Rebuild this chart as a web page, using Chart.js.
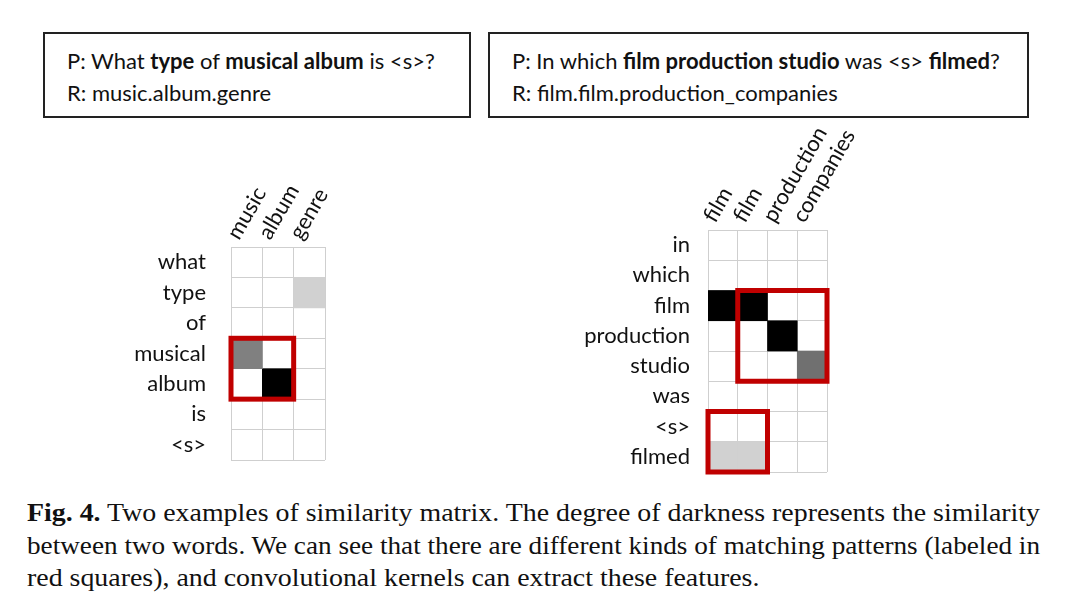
<!DOCTYPE html>
<html>
<head>
<meta charset="utf-8">
<script src="https://cdn.jsdelivr.net/npm/chart.js@4/dist/chart.umd.min.js"></script>
<style>
  body { margin: 0; width: 1080px; height: 611px; background: #fff; position: relative; overflow: hidden; font-family: Lato, sans-serif; color: #111; }
  .box { position: absolute; border: 2px solid #222; box-sizing: border-box; font-size: 22px; line-height: 32px; padding: 11px 0 0 22px; }
  .cv { position: absolute; }
  #caption { position: absolute; left: 27px; top: 497px; font-family: "Liberation Serif", serif; font-size: 26px; line-height: 32.5px; color: #111; white-space: nowrap; }
  #caption div { transform-origin: left center; }
</style>
</head>
<body>
<div class="box" style="left:43px;top:32px;width:428px;height:86px;">
  P: What <b>type</b> of <b>musical album</b> is &lt;s&gt;?<br>R: music.album.genre
</div>
<div class="box" style="left:488px;top:32px;width:541px;height:86px;">
  P: In which <b>film production studio</b> was &lt;s&gt; <b>filmed</b>?<br>R: film.film.production_companies
</div>

<canvas id="m1" class="cv" width="290" height="340" style="left:60px;top:140px;"></canvas>
<canvas id="m2" class="cv" width="320" height="380" style="left:540px;top:110px;"></canvas>

<div id="caption">
  <div id="c1"><b>Fig. 4.</b> Two examples of similarity matrix. The degree of darkness represents the similarity</div>
  <div id="c2">between two words. We can see that there are different kinds of matching patterns (labeled in</div>
  <div id="c3">red squares), and convolutional kernels can extract these features.</div>
</div>

<script>
// matrice 1 : question musicale
const cols1 = ["music", "album", "genre"];
const rows1 = ["what", "type", "of", "musical", "album", "is", "<s>"];
const sim1 = [
  [0, 0, 0],
  [0, 0, 0.18],
  [0, 0, 0],
  [0.5, 0, 0],
  [0, 1, 0],
  [0, 0, 0],
  [0, 0, 0],
];
// carrés rouges : [col début, col fin, ligne début, ligne fin]
const boxes1 = [[0, 2, 3, 5]];

// matrice 2 : question film
const cols2 = ["film", "film", "production", "companies"];
const rows2 = ["in", "which", "film", "production", "studio", "was", "<s>", "filmed"];
const sim2 = [
  [0, 0, 0, 0],
  [0, 0, 0, 0],
  [1, 1, 0, 0],
  [0, 0, 1, 0],
  [0, 0, 0, 0.56],
  [0, 0, 0, 0],
  [0, 0, 0, 0],
  [0.18, 0.18, 0, 0],
];
const boxes2 = [[1, 4, 2, 5], [0, 2, 6, 8]];

const gridColor = "#cfcfcf";

const redBoxes = {
  id: "redBoxes",
  afterDatasetsDraw(chart, args, opts) {
    const { ctx, scales: { x, y } } = chart;
    const cw = x.width / x.ticks.length;
    ctx.save();
    ctx.strokeStyle = "#c00000";
    ctx.lineWidth = 5;
    (opts.boxes || []).forEach(([c0, c1, r0, r1]) => {
      const x0 = x.getPixelForValue(c0) - cw / 2;
      const x1 = x.getPixelForValue(c1 - 1) + cw / 2;
      const y0 = y.getPixelForValue(r0);
      const y1 = y.getPixelForValue(r1);
      ctx.strokeRect(x0, y0, x1 - x0, y1 - y0);
    });
    ctx.restore();
  },
};

function matrice(id, cols, rows, sim, boxes, axeW, axeH, pad, labelPad) {
  const datasets = rows.map((r, i) => ({
    label: r,
    data: cols.map((c, j) => (sim[i][j] > 0 ? [i, i + 1] : null)),
    backgroundColor: cols.map((c, j) => {
      const g = Math.round(255 * (1 - sim[i][j]));
      return `rgb(${g},${g},${g})`;
    }),
    borderWidth: 0,
    categoryPercentage: 1,
    barPercentage: 1,
    grouped: false,
  }));

  new Chart(document.getElementById(id), {
    type: "bar",
    data: { labels: cols, datasets },
    options: {
      responsive: false,
      devicePixelRatio: 1,
      animation: false,
      layout: { padding: pad },
      plugins: {
        legend: { display: false },
        tooltip: { enabled: false },
        redBoxes: { boxes },
      },
      scales: {
        x: {
          position: "top",
          grid: { color: gridColor, offset: true, drawTicks: false },
          border: { color: gridColor },
          ticks: {
            minRotation: 60,
            maxRotation: 60,
            autoSkip: false,
            padding: 3,
            labelOffset: 9,
            color: "#111",
            font: { family: "Lato", size: 22 },
          },
          afterFit: (s) => {
            s.height = axeH;
            s.paddingLeft = s.paddingRight = s.paddingTop = s.paddingBottom = 0;
          },
        },
        y: {
          type: "linear",
          reverse: true,
          min: 0,
          max: rows.length,
          grid: {
            drawTicks: false,
            color: (c) => (c.tick && c.tick.value % 1 === 0 ? gridColor : "rgba(0,0,0,0)"),
          },
          border: { color: gridColor },
          ticks: {
            stepSize: 0.5,
            maxTicksLimit: 100,
            autoSkip: false,
            padding: labelPad,
            color: "#111",
            font: { family: "Lato", size: 22 },
            callback: (v) => (v % 1 === 0.5 ? rows[Math.floor(v)] : ""),
          },
          afterFit: (s) => {
            s.width = axeW;
            s.paddingTop = s.paddingBottom = 0;
          },
        },
      },
    },
    plugins: [redBoxes],
  });
}

matrice("m1", cols1, rows1, sim1, boxes1, 171, 107, { right: 25, bottom: 20 }, 25);
matrice("m2", cols2, rows2, sim2, boxes2, 168, 120, { right: 33, bottom: 18 }, 18);

// légende : étirer chaque ligne à la largeur de la justification d'origine
const largeurs = { c1: 1013, c2: 1013 };
let echelle = 1;
["c1", "c2"].forEach((id) => {
  const el = document.getElementById(id);
  el.style.display = "inline-block";
  const w = el.getBoundingClientRect().width;
  el.style.transform = `scaleX(${largeurs[id] / w})`;
  el.style.display = "block";
  if (id === "c1") echelle = largeurs[id] / w;
});
document.getElementById("c3").style.transform = `scaleX(${echelle})`;
</script>
</body>
</html>
